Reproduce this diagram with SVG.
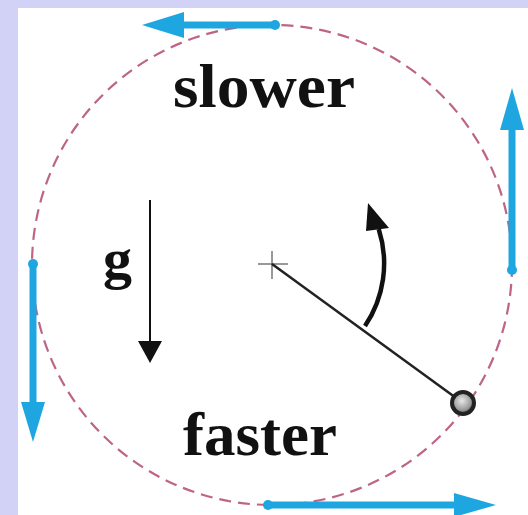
<svg xmlns="http://www.w3.org/2000/svg" width="528" height="515" viewBox="0 0 528 515">
<style>
.lbl{font-family:"Liberation Serif","Times New Roman",serif;font-weight:bold;fill:#111}
.vel{stroke:#1ea6e0;stroke-width:7;fill:none;stroke-linecap:round}
.velh{fill:#1ea6e0}
</style>
<defs>
<radialGradient id="bobg" cx="0.45" cy="0.4" r="0.6">
<stop offset="0" stop-color="#e8e8e8"/>
<stop offset="0.7" stop-color="#999"/>
<stop offset="1" stop-color="#555"/>
</radialGradient>
</defs>
<rect x="0" y="0" width="528" height="515" fill="#d2d2f6"/>
<rect x="18" y="8" width="510" height="507" fill="#ffffff"/>
<g id="path-circle">
<circle cx="272" cy="265" r="240" fill="none" stroke="#bd6488" stroke-width="2.2" stroke-dasharray="12 7"/>
</g>
<g id="connectors">
<g id="vel-top">
<line class="vel" x1="275" y1="25" x2="180" y2="25"/>
<circle class="velh" cx="275" cy="25" r="5"/>
<polygon class="velh" points="142,25 184,12 184,38"/>
</g>
<g id="vel-right">
<line class="vel" x1="512" y1="270" x2="512" y2="125"/>
<circle class="velh" cx="512" cy="270" r="5"/>
<polygon class="velh" points="512,88 500,130 524,130"/>
</g>
<g id="vel-left">
<line class="vel" x1="33" y1="264" x2="33" y2="405"/>
<circle class="velh" cx="33" cy="264" r="5"/>
<polygon class="velh" points="33,442 21,402 45,402"/>
</g>
<g id="vel-bottom">
<line class="vel" x1="268" y1="505" x2="460" y2="505"/>
<circle class="velh" cx="268" cy="505" r="5"/>
<polygon class="velh" points="496,505 454,493 454,517"/>
</g>
<g id="gravity">
<line x1="150" y1="200" x2="150" y2="345" stroke="#111" stroke-width="2"/>
<polygon points="150,363 138,341 162,341" fill="#111"/>
</g>
<g id="rotation">
<path d="M365,326 A112,112 0 0 0 378.7,229" fill="none" stroke="#111" stroke-width="4.5"/>
<polygon points="368,203 389,228 366,231" fill="#111"/>
</g>
</g>
<g id="pivot">
<line x1="258" y1="264" x2="288" y2="264" stroke="#555" stroke-width="1.2"/>
<line x1="272" y1="251" x2="272" y2="279" stroke="#555" stroke-width="1.2"/>
</g>
<g id="string">
<line x1="272" y1="264" x2="463" y2="403" stroke="#222" stroke-width="2.5"/>
</g>
<g id="bob">
<circle cx="463" cy="403" r="11" fill="url(#bobg)" stroke="#222" stroke-width="4"/>
</g>
<g id="label-slower"><text class="lbl" x="173" y="107" font-size="62" textLength="182" lengthAdjust="spacingAndGlyphs">slower</text></g>
<g id="label-faster"><text class="lbl" x="183" y="455" font-size="62" textLength="154" lengthAdjust="spacingAndGlyphs">faster</text></g>
<g id="label-g"><text class="lbl" x="103" y="278" font-size="58">g</text></g>
</svg>
